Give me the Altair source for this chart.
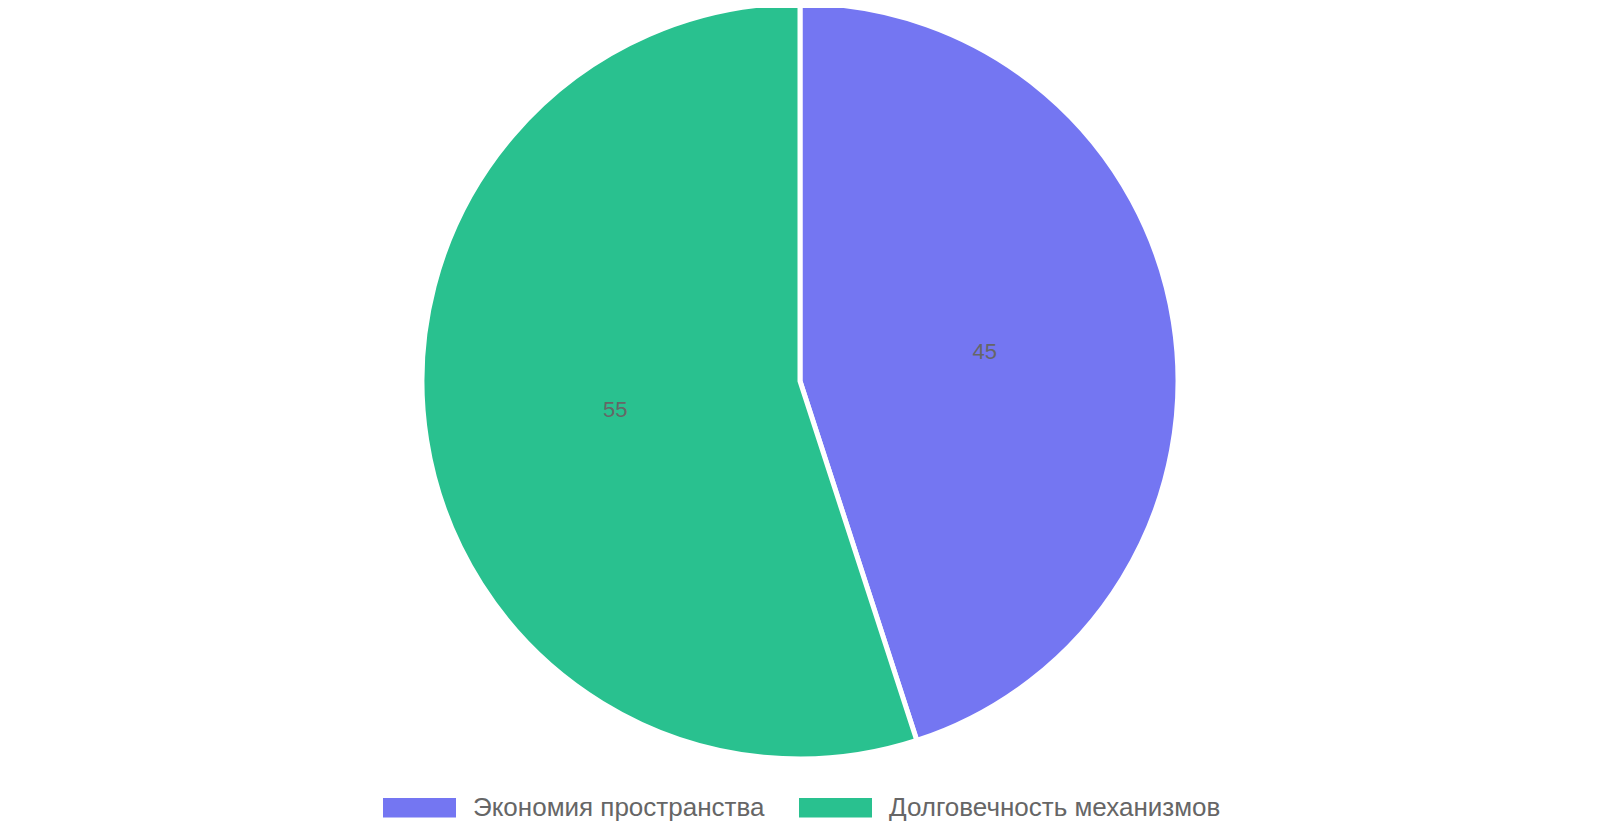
import altair as alt
import pandas as pd

categories = ["Экономия пространства", "Долговечность механизмов"]
values = [45, 55]
colors = ["#7476F2", "#29C18F"]

df = pd.DataFrame({"cat": categories, "val": values, "idx": [0, 1]})

base = alt.Chart(df).encode(
    theta=alt.Theta("val:Q", stack=True),
    order=alt.Order("idx:O"),
)

color = alt.Color(
    "cat:N",
    scale=alt.Scale(domain=categories, range=colors),
    sort=categories,
    legend=alt.Legend(
        title=None,
        orient="none",
        direction="horizontal",
        legendX=375,
        legendY=763,
        symbolType="M-1,-0.266L1,-0.266L1,0.266L-1,0.266Z",
        symbolSize=5329,
        symbolStrokeWidth=0,
        symbolOpacity=1,
        labelFont="Liberation Sans",
        labelFontSize=26,
        labelColor="#666666",
        labelOffset=17,
        columnPadding=34,
        labelLimit=600,
    ),
)

pie = base.mark_arc(radius=378, stroke="white", strokeWidth=5).encode(
    color=color,
    x=alt.value(792),
    y=alt.value(373),
)

labels = base.mark_text(
    radius=187, font="Liberation Sans", fontSize=22, color="#666666"
).encode(
    text=alt.Text("val:Q"),
    x=alt.value(792),
    y=alt.value(373),
)

chart = (
    alt.layer(pie, labels)
    .properties(width=1584, height=824, autosize=alt.AutoSizeParams(type="none"), padding=0)
    .configure_view(stroke=None)
)

chart.save("out.html", embed_options={"renderer": "svg", "actions": False})
